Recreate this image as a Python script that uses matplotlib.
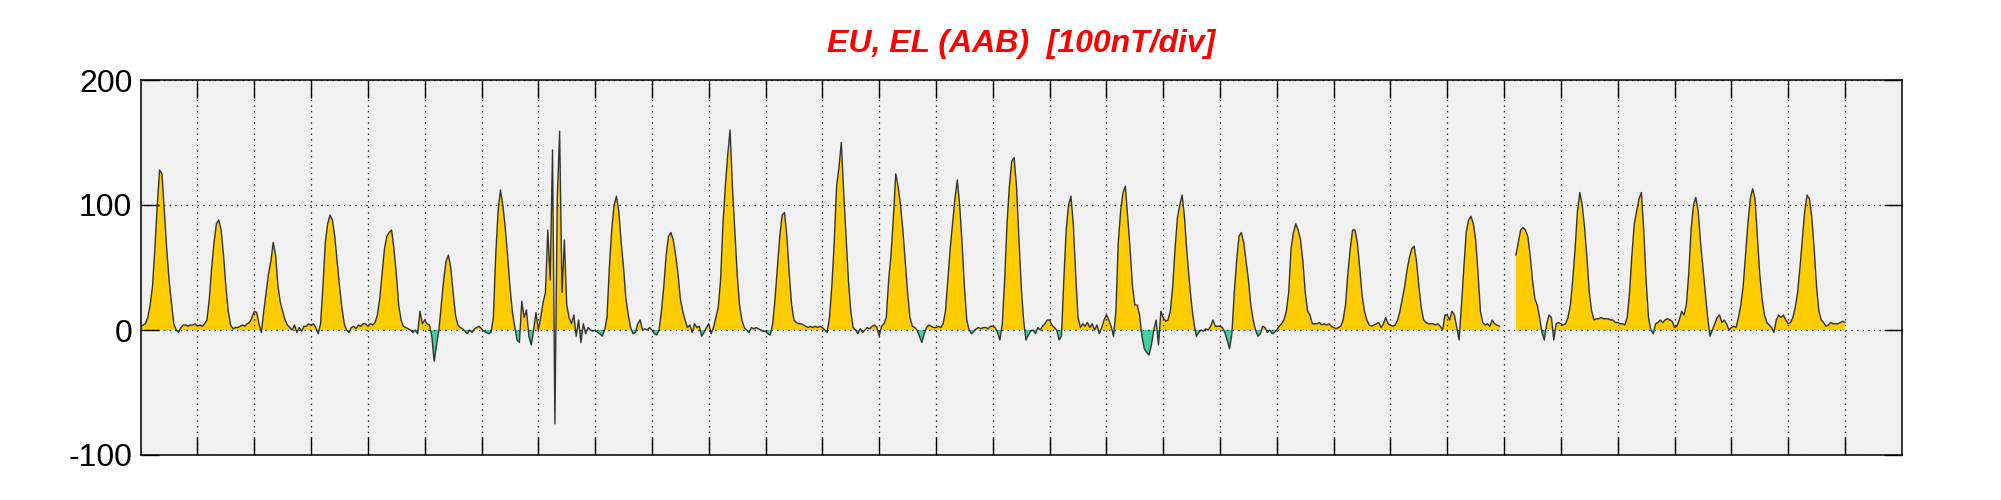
import numpy as np
import matplotlib
matplotlib.use('Agg')
import matplotlib.pyplot as plt

plt.rcParams['font.family'] = ['Liberation Sans', 'DejaVu Sans']

title = 'EU, EL (AAB)  [100nT/div]'
y_ticks = [-100, 0, 100, 200]
day_ticks = list(range(1, 31))
hours_per_day = 24

# hourly EU/EL values [nT], one row per day
nan = np.nan
eu_el = [
    3, 4, 5, 10, 20, 35, 65, 100, 128, 125, 95, 65, 40, 22, 5, 0, -2, 2, 4, 4, 3, 4, 4, 5,
    3, 4, 3, 5, 8, 25, 50, 70, 85, 88, 80, 60, 35, 15, 4, 1, 2, 2, 3, 4, 3, 5, 6, 10,
    15, 14, 5, -2, 15, 30, 45, 55, 70, 60, 35, 22, 15, 8, 4, 2, 0, 4, -2, 2, -1, 3, 3, 5,
    4, 5, 2, -3, 5, 35, 70, 85, 92, 88, 75, 55, 35, 18, 5, 0, -2, 2, 3, 1, 4, 3, 5, 5,
    3, 5, 4, 6, 12, 25, 45, 65, 75, 78, 80, 65, 45, 20, 8, 3, 2, 1, 0, -2, 0, -3, 15, 5,
    8, 5, 4, -5, -25, -12, 0, 20, 40, 55, 60, 50, 30, 12, 4, 2, 1, -1, -3, 0, -2, 1, 2, 3,
    1, -1, -2, -3, -2, 10, 60, 95, 112, 100, 82, 60, 35, 15, 3, -8, -10, 23, 10, 16, -5, -12, 0, 14,
    0, 10, 22, 30, 80, 40, 144, -75, 105, 159, 30, 72, 20, 10, 5, 12, -5, 8, -10, 5, -3, 2, 0, -1,
    0, -2, -3, -5, 0, 10, 50, 80, 100, 107, 95, 70, 50, 25, 12, 2, -3, -2, 5, 8, 0, 1, 0, 2,
    0, -3, -4, 0, 15, 35, 60, 75, 78, 72, 60, 45, 25, 15, 8, 2, 4, -2, 5, 2, 3, -5, -2, 2,
    5, -3, 2, 10, 18, 40, 85, 115, 140, 160, 115, 80, 45, 20, 8, 2, 0, -2, 2, 1, 2, 1, 0, -1,
    -1, -3, -4, 5, 25, 50, 75, 92, 94, 75, 45, 20, 8, 6, 5, 5, 4, 3, 2, 3, 2, 3, 2, 3,
    2, 0, -2, 10, 35, 70, 115, 130, 150, 110, 75, 40, 15, 2, 0, -3, 1, -2, 0, 2, 1, 3, 4, 2,
    -5, 3, 5, 10, 40, 60, 90, 125, 115, 100, 80, 55, 30, 10, 3, 2, 0, -5, -10, -3, 2, 4, 3, 2,
    2, 3, 2, 5, 15, 40, 65, 85, 105, 120, 100, 70, 35, 8, 0, -3, -1, 1, 2, 1, 2, 2, 1, 3,
    3, 2, -2, -8, 5, 40, 85, 115, 135, 138, 115, 75, 35, 8, -8, -4, -1, 0, -3, 2, 0, 3, 5, 8,
    8, 4, 2, 0, -8, -5, 40, 80, 100, 107, 85, 45, 10, 2, 5, 3, 6, 2, 5, 0, 4, -3, 2, 8,
    12, 8, 3, -5, 15, 70, 95, 110, 115, 90, 65, 35, 20, 20, 12, -5, -15, -18, -20, -12, 0, 8, -12, 15,
    10, 7, 8, 15, 35, 65, 90, 100, 108, 90, 62, 40, 20, 5, -5, -2, 0, -1, 1, 0, 3, 8, 3, 3,
    3, 2, -2, -8, -15, -3, 30, 55, 75, 78, 70, 55, 40, 20, 8, 0, -5, -3, 3, 2, -2, 0, -3, -2,
    0, 3, 5, 8, 15, 30, 65, 78, 85, 80, 72, 55, 30, 15, 12, 5, 5, 5, 6, 4, 5, 4, 5, 3,
    2, 1, 2, 3, 8, 20, 45, 65, 80, 80, 70, 50, 28, 15, 8, 4, 3, 4, 5, 6, 2, 5, 10, 5,
    4, 3, 4, 8, 15, 25, 35, 48, 58, 65, 67, 55, 35, 18, 8, 6, 5, 5, 5, 4, 5, 3, 0, 12,
    12, 8, 15, 12, 2, -8, 20, 50, 78, 88, 91, 85, 72, 45, 15, 6, 4, 5, 3, 8, 5, 4, 3, nan,
    nan, nan, nan, nan, nan, 60, 70, 80, 82, 80, 75, 60, 40, 25, 20, 10, -2, -8, 5, 12, 10, -8, 5, 6,
    5, 4, 5, 10, 20, 40, 65, 95, 110, 100, 82, 58, 30, 15, 8, 9, 9, 10, 9, 9, 9, 8, 8, 6,
    6, 5, 5, 4, 10, 30, 60, 85, 95, 105, 110, 80, 40, 10, 0, -3, 5, 6, 8, 6, 8, 9, 8, 7,
    2, 3, 8, 15, 12, 20, 45, 80, 100, 106, 95, 70, 50, 30, 10, -5, 0, 5, 10, 12, 6, 8, 5, 0,
    2, 3, 2, 10, 20, 35, 60, 85, 105, 113, 105, 75, 45, 25, 12, 6, 4, 2, -2, 8, 12, 10, 12, 8,
    5, 6, 10, 18, 30, 50, 72, 95, 108, 105, 90, 65, 35, 15, 8, 6, 3, 4, 6, 5, 5, 5, 6, 7,
    6,
]


def main():
    values = np.array(eu_el, dtype=float)
    t = np.arange(len(values)) / hours_per_day

    fig = plt.figure(figsize=(20.01, 5.0), dpi=100)
    ax = fig.add_axes([0.0703, 0.09, 0.8801, 0.75])
    ax.set_facecolor('#f0f0f0')

    ax.fill_between(t, values, 0, where=values >= 0, interpolate=True,
                    color='#ffcc00', linewidth=0)
    ax.fill_between(t, values, 0, where=values < 0, interpolate=True,
                    color='#40d0a0', linewidth=0)
    ax.plot(t, values, color='#333333', linewidth=1.0)

    ax.set_xlim(0, 31)
    ax.set_ylim(-100, 200)
    ax.set_xticks(day_ticks)
    ax.set_yticks(y_ticks)
    ax.set_yticklabels([str(v) for v in y_ticks], fontsize=23)
    ax.tick_params(axis='both', direction='in', length=13, width=1,
                   top=True, right=True, labelbottom=False, pad=6)
    ax.grid(True, color='black', linewidth=0.9, linestyle=(0, (1, 3.5)))
    for s in ax.spines.values():
        s.set_linewidth(1.1)

    fig.text(0.5103, 0.896, title, ha='center', va='baseline', color='#ff0000',
             fontsize=23, fontweight='bold', fontstyle='italic')

    fig.savefig('out.png', dpi=100)


if __name__ == '__main__':
    main()
